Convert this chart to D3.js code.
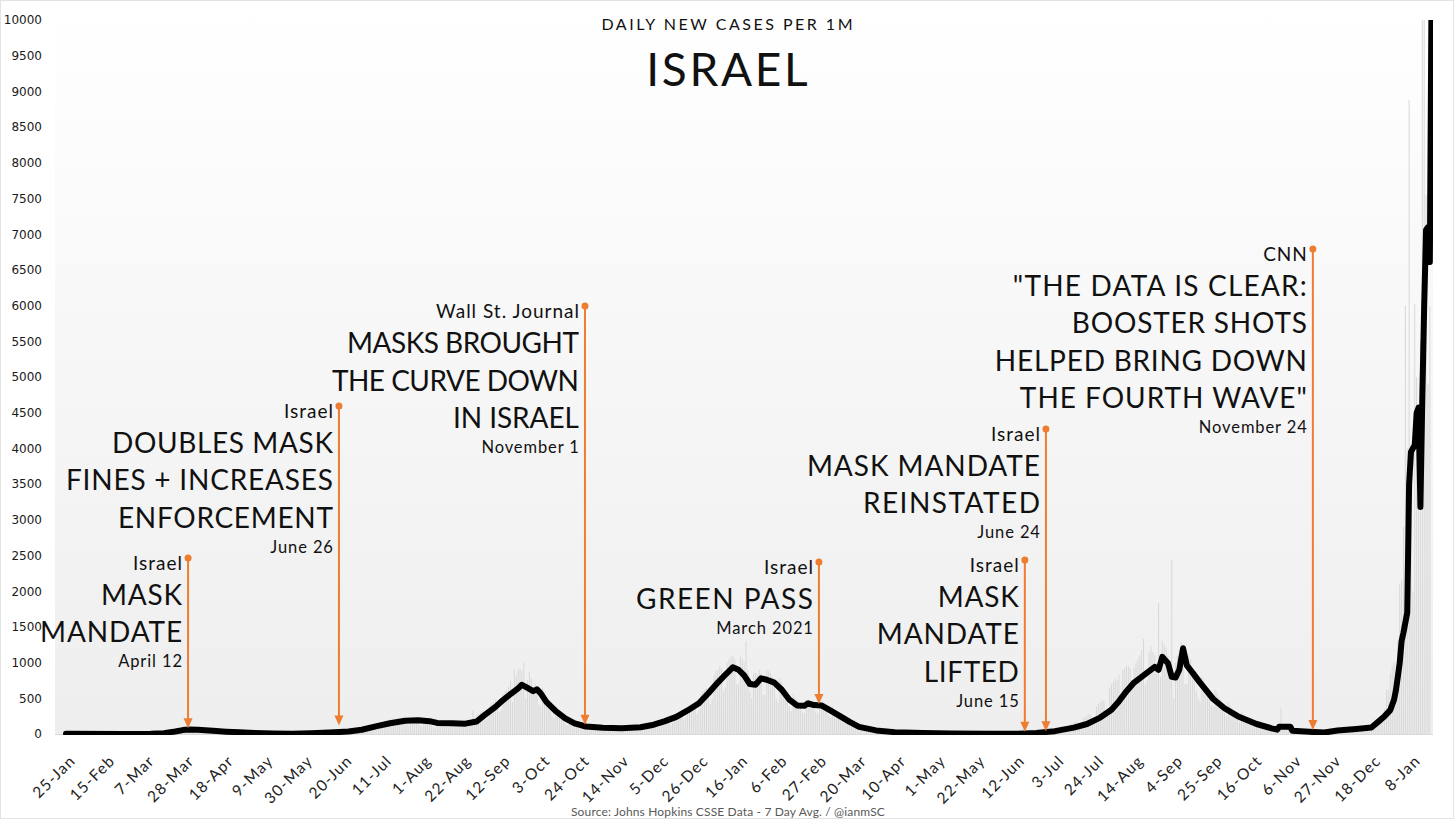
<!DOCTYPE html>
<html><head><meta charset="utf-8">
<script src="https://cdn.jsdelivr.net/npm/d3@7"></script>
<style>body{margin:0;background:#fff;} svg{display:block}</style>
</head><body><svg id="c" width="1456" height="821"></svg>
<script>
// ---------- DATA ----------
const START = "2020-01-25";
const tickLabels = ["25-Jan","15-Feb","7-Mar","28-Mar","18-Apr","9-May","30-May","20-Jun","11-Jul","1-Aug","22-Aug","12-Sep","3-Oct","24-Oct","14-Nov","5-Dec","26-Dec","16-Jan","6-Feb","27-Feb","20-Mar","10-Apr","1-May","22-May","12-Jun","3-Jul","24-Jul","14-Aug","4-Sep","25-Sep","16-Oct","6-Nov","27-Nov","18-Dec","8-Jan"];
const yTickValues = [0,500,1000,1500,2000,2500,3000,3500,4000,4500,5000,5500,6000,6500,7000,7500,8000,8500,9000,9500,10000];

// 7-day average: day offset from START, value per 1M
const avgDays = [0,30,45,52,58,62,65,70,78,85,92,100,110,120,130,140,150,157,165,172,180,187,193,197,205,212,218,222,228,232,236,240,242,245,248,250,252,255,260,265,270,276,285,295,305,312,318,324,330,336,341,346,350,352,354,357,360,363,366,369,372,376,380,384,388,392,394,397,401,405,410,416,421,430,440,455,470,490,505,515,525,535,542,549,555,559,563,567,571,575,578,580,582,585,587,589,591,593,595,598,602,605,609,615,622,632,640,643,644,650,651,660,668,675,685,693,697,700,703,705,706,707,708,709,710,711,712,713,714,715,716,717,718,719,720,721,722,723,724,725];
const avgValues = [2,1,3,12,35,55,62,60,45,33,24,15,8,5,10,20,35,60,110,150,185,192,180,155,150,145,175,260,380,475,560,640,690,645,600,625,570,450,320,220,150,105,88,82,95,130,180,240,330,430,570,720,830,880,935,900,820,700,690,780,760,720,620,480,400,395,430,405,400,340,265,170,100,50,25,15,8,4,4,15,40,90,140,230,340,460,600,720,800,880,940,900,1080,990,800,790,900,1200,960,860,720,620,490,360,250,140,80,60,100,100,45,30,20,50,70,90,180,250,335,480,615,800,995,1300,1420,1560,1700,3500,3950,4000,4050,4500,4570,3180,4700,6000,7060,7100,6610,10800];

// daily new cases per 1M, one value per day from START
const dailyCases = [
0,0,0,0,0,0,0, 0,0,0,0,0,0,0, 0,0,0,0,0,0,0, 0,0,0,0,0,0,0, 0,0,0,0,0,0,0, 0,0,0,0,0,0,0,
1,1,2,2,3,4,5, 6,8,10,12,15,20,25, 20,30,40,50,55,60,70, 40,75,80,85,70,80,60,
45,60,65,55,50,45,30, 25,35,40,35,30,30,20, 15,25,25,20,20,18,10, 8,18,16,14,12,12,6,
5,10,8,8,6,5,3, 3,6,5,5,4,4,2, 2,4,3,3,3,3,2, 2,3,3,4,4,5,3,
5,10,12,14,15,14,8, 10,18,20,22,20,18,12, 15,24,26,28,30,28,20, 25,38,40,45,50,48,35,
40,75,80,90,100,95,60, 70,120,130,140,150,140,90, 100,170,180,190,200,185,120, 120,200,210,220,215,200,130,
110,210,220,210,205,190,120, 100,190,200,190,185,170,100, 90,160,170,175,170,160,100, 90,170,175,170,165,160,110,
100,180,190,185,180,170,335, 130,260,280,300,320,310,200, 220,400,430,450,480,470,300, 330,560,600,620,660,750,450,
910,820,900,920,880,995,500, 755,870,780,600,700,640,420, 400,650,580,500,450,380,260, 220,380,340,300,260,230,150,
120,210,190,170,150,140,90, 70,130,120,110,100,95,60, 55,100,95,90,85,85,55, 50,95,90,85,85,80,50,
50,95,90,90,85,85,55, 55,105,100,100,100,100,60, 70,130,135,140,145,140,90, 100,190,200,200,210,200,130,
150,270,290,300,310,290,190, 220,380,400,420,430,420,280, 330,560,600,620,640,620,420, 500,820,880,900,950,920,600,
650,1000,1050,1080,1100,1050,700, 700,1090,1060,1000,1300,900,600, 500,850,860,830,900,850,550, 550,900,880,850,800,760,500,
450,780,720,650,600,560,380, 320,560,520,480,460,420,300, 300,480,470,460,450,420,300, 280,470,450,440,420,390,260,
220,380,350,320,300,280,180, 150,250,230,200,190,170,110, 80,140,120,110,100,90,55, 45,70,65,60,55,50,30,
25,40,38,35,32,30,18, 15,25,22,20,19,18,10, 10,16,15,14,13,12,8, 7,12,11,10,9,9,5,
5,8,8,7,7,6,4, 3,6,5,5,5,4,3, 2,4,4,3,3,3,2, 2,3,3,3,2,2,1,
1,2,2,2,2,2,1, 1,2,2,2,2,3,2, 2,5,6,8,12,15,10, 12,20,25,30,35,35,25,
25,45,50,55,60,60,40, 45,80,90,100,110,110,70, 80,130,150,160,170,160,110, 120,220,240,260,280,270,180,
200,380,420,440,480,470,320, 360,650,700,740,780,760,830, 560,900,930,960,950,920,640, 925,1000,1050,1100,1180,1330,700,
750,1150,1220,1150,1100,1000,1835, 800,1300,1250,1200,1100,1000,2440, 500,1000,1100,1050,1290,1000,700, 700,1100,1050,900,850,600,500,
450,800,760,700,620,560,400, 380,620,580,520,480,430,300, 250,440,400,360,330,300,200, 170,300,270,240,220,200,130,
110,200,180,160,150,140,90, 70,130,120,110,100,95,60, 55,365,100,95,90,85,50, 45,80,75,70,65,60,35,
30,55,50,48,45,42,25, 20,40,38,35,33,30,20, 25,55,60,60,58,55,35, 40,75,80,80,78,75,45,
55,95,100,105,110,110,70, 90,150,170,200,230,240,170, 350,615,620,850,950,1000,700,
1300,2100,2150,2900,6000,4000,8880, 3000,2000,6020,5000,4500,5500,10500, 10800,7550,4900,6000
];

// annotations: arrow day offset, dot value, arrow tip value, text lines (kind: s=source, b=big, d=date)
const annotations = [
  {day: 64.8,  top: 2465, tip: 80,  lines: [["Israel","s"],["MASK","b"],["MANDATE","b"],["April 12","d"]]},
  {day: 144.9, top: 4594, tip: 120, lines: [["Israel","s"],["DOUBLES MASK","b"],["FINES + INCREASES","b"],["ENFORCEMENT","b"],["June 26","d"]]},
  {day: 275.5, top: 5994, tip: 130, lines: [["Wall St. Journal","s"],["MASKS BROUGHT","b"],["THE CURVE DOWN","b"],["IN ISRAEL","b"],["November 1","d"]]},
  {day: 399.7, top: 2409, tip: 420, lines: [["Israel","s"],["GREEN PASS","b"],["March 2021","d"]]},
  {day: 509.0, top: 2437, tip: 30,  lines: [["Israel","s"],["MASK","b"],["MANDATE","b"],["LIFTED","b"],["June 15","d"]]},
  {day: 520.2, top: 4272, tip: 40,  lines: [["Israel","s"],["MASK MANDATE","b"],["REINSTATED","b"],["June 24","d"]]},
  {day: 661.9, top: 6793, tip: 55,  lines: [["CNN","s"],["\"THE DATA IS CLEAR:","b"],["BOOSTER SHOTS","b"],["HELPED BRING DOWN","b"],["THE FOURTH WAVE\"","b"],["November 24","d"]]}
];

const titleSmall = "DAILY NEW CASES PER 1M";
const titleBig = "ISRAEL";
const sourceText = "Source: Johns Hopkins CSSE Data - 7 Day Avg. / @ianmSC";

// ---------- LAYOUT (text widths of the big annotation lines, px) ----------
const bigLineWidths = {
  "MANDATE": 142, "DOUBLES MASK": 221, "FINES + INCREASES": 267, "ENFORCEMENT": 215,
  "MASKS BROUGHT": 232, "THE CURVE DOWN": 247, "IN ISRAEL": 126, "GREEN PASS": 177,
  "LIFTED": 95, "MASK MANDATE": 233, "REINSTATED": 177, "\"THE DATA IS CLEAR:": 294,
  "BOOSTER SHOTS": 235, "HELPED BRING DOWN": 312, "THE FOURTH WAVE\"": 287
};

// ---------- CHART ----------
const svg = d3.select("#c");
const FONT = "Lato, 'Noto Sans', sans-serif";
const ORANGE = "#ed7d31";

const start = d3.utcParse("%Y-%m-%d")(START);
const dayDate = n => new Date(start.getTime() + n * 86400000);

const plot = {left: 55, right: 1433, top: 3, bottom: 735};
const x = d3.scaleUtc().domain([dayDate(0), dayDate(714)]).range([66, 1411]);
const y = d3.scaleLinear().domain([0, 10000]).range([734, 20]);

// outer border
svg.append("rect").attr("x", 0.5).attr("y", 0.5).attr("width", 1453).attr("height", 818)
  .attr("fill", "#fff").attr("stroke", "#e3e3e3");

// plot background gradient
const defs = svg.append("defs");
const grad = defs.append("linearGradient").attr("id", "bg").attr("x1", 0).attr("y1", 0).attr("x2", 0).attr("y2", 1);
grad.append("stop").attr("offset", "0%").attr("stop-color", "#ffffff");
grad.append("stop").attr("offset", "100%").attr("stop-color", "#eeeeee");
svg.append("rect").attr("x", plot.left).attr("y", plot.top).attr("width", plot.right - plot.left)
  .attr("height", plot.bottom - plot.top).attr("fill", "url(#bg)");

defs.append("clipPath").attr("id", "clip").append("rect")
  .attr("x", plot.left).attr("y", 20).attr("width", plot.right - plot.left).attr("height", plot.bottom - 20);

// bars
svg.append("g").attr("clip-path", "url(#clip)").selectAll("rect").data(dailyCases).join("rect")
  .attr("x", (d, i) => x(dayDate(i)) - 0.5)
  .attr("y", d => y(d))
  .attr("width", 1)
  .attr("height", d => y(0) - y(d))
  .attr("fill", "#d8d8d8");

// baseline
svg.append("line").attr("x1", plot.left).attr("x2", plot.right).attr("y1", 734.5).attr("y2", 734.5)
  .attr("stroke", "#d9d9d9");

// line
const avg = avgDays.map((d, i) => ({date: dayDate(d), v: avgValues[i]}));
svg.append("path").attr("clip-path", "url(#clip)").datum(avg)
  .attr("d", d3.line().x(d => x(d.date)).y(d => y(d.v)))
  .attr("fill", "none").attr("stroke", "#000").attr("stroke-width", 6)
  .attr("stroke-linejoin", "round").attr("stroke-linecap", "round");

// y axis labels
const yAxis = svg.append("g").attr("transform", "translate(42,0)")
  .call(d3.axisLeft(y).tickValues(yTickValues).tickSize(0).tickPadding(0).tickFormat(d3.format("d")));
yAxis.select(".domain").remove();
yAxis.selectAll("text").attr("font-family", "'DejaVu Sans', Verdana, sans-serif").attr("font-size", 12).attr("fill", "#1a1a1a");

// x axis labels
const tickDates = tickLabels.map((t, i) => dayDate(i * 21));
const xAxis = svg.append("g").attr("transform", "translate(0,742)")
  .call(d3.axisBottom(x).tickValues(tickDates).tickSize(0).tickPadding(0).tickFormat((d, i) => tickLabels[i]));
xAxis.select(".domain").remove();
xAxis.selectAll("text").attr("font-family", FONT).attr("font-size", 15.5).attr("letter-spacing", 1.2).attr("fill", "#222")
  .attr("text-anchor", "end").attr("dy", "0.35em").attr("transform", "translate(6,16) rotate(-45)");

// annotations
const styles = {s: {size: 19, ls: 1.0}, b: {size: 28, ls: 0.8}, d: {size: 16.5, ls: 0.9}};
const gap = (prev, cur) => (prev === "s" ? 35 : cur === "d" ? 25 : 37.5);
annotations.forEach(a => {
  const ax = x(dayDate(a.day));
  const y0 = y(a.top), y1 = y(a.tip);
  const g = svg.append("g");
  g.append("line").attr("x1", ax).attr("x2", ax).attr("y1", y0).attr("y2", y1 - 8)
    .attr("stroke", ORANGE).attr("stroke-width", 2);
  g.append("circle").attr("cx", ax).attr("cy", y0).attr("r", 3.5).attr("fill", ORANGE);
  g.append("path").attr("d", `M${ax - 4.5},${y1 - 10}L${ax + 4.5},${y1 - 10}L${ax},${y1}Z`).attr("fill", ORANGE);
  let by = y0 + 12, prev = null;
  a.lines.forEach(([t, k], i) => {
    if (i > 0) by += gap(prev, k);
    const st = styles[k];
    const w = k === "b" ? bigLineWidths[t] : undefined;
    const tx = g.append("text").attr("y", by).attr("text-anchor", "end")
      .attr("font-family", FONT).attr("font-size", st.size).attr("fill", "#111").text(t);
    if (w) {
      tx.attr("x", ax - 6).attr("textLength", w).attr("lengthAdjust", "spacing");
    } else {
      tx.attr("x", ax - 6 + st.ls).attr("letter-spacing", st.ls);
    }
    prev = k;
  });
});

// titles
svg.append("text").attr("x", 728.25).attr("y", 30).attr("text-anchor", "middle")
  .attr("font-family", FONT).attr("font-size", 16).attr("letter-spacing", 2.5).attr("fill", "#111").text(titleSmall);
svg.append("text").attr("x", 728.3).attr("y", 86).attr("text-anchor", "middle")
  .attr("font-family", FONT).attr("font-size", 46).attr("letter-spacing", 2.7).attr("fill", "#111").text(titleBig);
svg.append("text").attr("x", 728).attr("y", 816).attr("text-anchor", "middle")
  .attr("font-family", FONT).attr("font-size", 12).attr("letter-spacing", 0.15).attr("fill", "#595959").text(sourceText);
</script></body></html>
